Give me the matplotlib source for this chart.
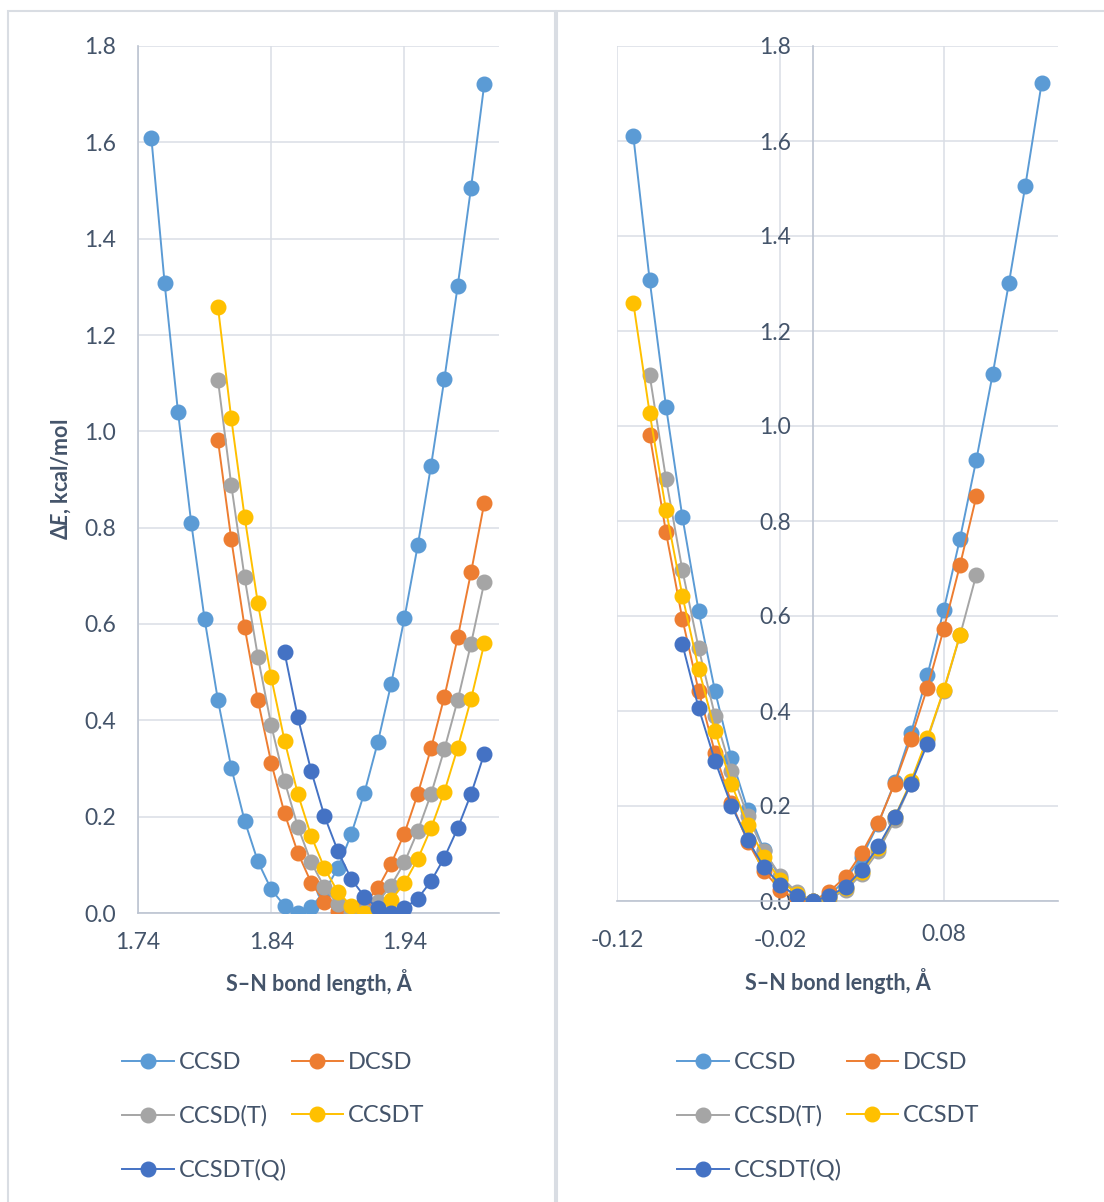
import matplotlib

matplotlib.use("Agg")
import matplotlib.pyplot as plt
import numpy as np
from matplotlib.patches import Rectangle
from matplotlib.transforms import ScaledTranslation

# S-N bond length grid (Angstrom) and relative energies (kcal/mol) per method.
R_GRID = [1.75, 1.76, 1.77, 1.78, 1.79, 1.80, 1.81, 1.82, 1.83, 1.84, 1.85, 1.86, 1.87,
          1.88, 1.89, 1.90, 1.91, 1.92, 1.93, 1.94, 1.95, 1.96, 1.97, 1.98, 1.99, 2.00]

E_CCSD = [1.610, 1.307, 1.041, 0.809, 0.610, 0.442, 0.302, 0.192, 0.107, 0.049, 0.015, 0.000, 0.012,
          0.045, 0.093, 0.163, 0.250, 0.354, 0.475, 0.612, 0.763, 0.929, 1.109, 1.302, 1.506, 1.722]
E_DCSD = [0.982, 0.776, 0.594, 0.442, 0.312, 0.207, 0.125, 0.063, 0.023, 0.004, 0.000,
          0.020, 0.051, 0.102, 0.165, 0.247, 0.342, 0.449, 0.572, 0.707, 0.852]
E_CCSD_T = [1.107, 0.889, 0.697, 0.532, 0.390, 0.274, 0.179, 0.105, 0.053, 0.018, 0.000,
            0.005, 0.023, 0.057, 0.105, 0.170, 0.247, 0.340, 0.442, 0.559, 0.687]
E_CCSDT = [1.259, 1.027, 0.823, 0.643, 0.489, 0.358, 0.247, 0.160, 0.093, 0.044, 0.015,
           0.000, 0.008, 0.027, 0.062, 0.112, 0.176, 0.252, 0.343, 0.444, 0.560]
E_CCSDT_Q = [0.541, 0.406, 0.295, 0.201, 0.129, 0.071, 0.034, 0.010, 0.000,
             0.010, 0.030, 0.066, 0.115, 0.176, 0.247, 0.331]

# First bond length of each scan and the bond length at the energy minimum.
METHODS = ["CCSD", "DCSD", "CCSD(T)", "CCSDT", "CCSDT(Q)"]
ENERGIES = [E_CCSD, E_DCSD, E_CCSD_T, E_CCSDT, E_CCSDT_Q]
R_START = [1.75, 1.80, 1.80, 1.80, 1.85]
R_MIN = [1.86, 1.90, 1.90, 1.91, 1.93]
COLORS = ["#5B9BD5", "#ED7D31", "#A5A5A5", "#FFC000", "#4472C4"]

LEFT_XTICKS = [1.74, 1.84, 1.94]
RIGHT_XTICKS = [-0.12, -0.02, 0.08]
YTICKS = [0.0, 0.2, 0.4, 0.6, 0.8, 1.0, 1.2, 1.4, 1.6, 1.8]

TEXT_COLOR = "#44546A"
GRID_COLOR = "#DADEE5"
AXIS_COLOR = "#BCC4D1"
BORDER_COLOR = "#D9DDE3"

W, H = 1104, 1202

plt.rcParams["font.family"] = ["Lato", "DejaVu Sans"]
plt.rcParams["mathtext.fontset"] = "custom"
plt.rcParams["mathtext.it"] = "Lato:italic:bold"


def series_points(i):
    start = R_GRID.index(R_START[i])
    r = np.array(R_GRID[start:start + len(ENERGIES[i])])
    return r, np.array(ENERGIES[i])


def style_axes(ax, xticks, xlim, xpad, labelpad):
    ax.set_xlim(*xlim)
    ax.set_ylim(0, 1.8)
    ax.set_xticks(xticks)
    ax.set_xticklabels([f"{t:.2f}" for t in xticks])
    ax.set_yticks(YTICKS)
    ax.set_yticklabels([f"{t:.1f}" for t in YTICKS])
    for side in ["top", "right"]:
        ax.spines[side].set_visible(False)
    for side in ["left", "bottom"]:
        ax.spines[side].set_color(AXIS_COLOR)
        ax.spines[side].set_linewidth(1.2)
    ax.grid(True, color=GRID_COLOR, linewidth=1.1)
    ax.set_axisbelow(True)
    ax.tick_params(length=0, colors=TEXT_COLOR, labelsize=16.5)
    ax.tick_params(axis="y", pad=16)
    ax.tick_params(axis="x", pad=xpad)
    ax.set_xlabel("S–N bond length, Å", fontsize=15.5, fontweight="bold",
                  color=TEXT_COLOR, labelpad=labelpad)


def add_legend(ax, handles, x_px):
    order = [0, 2, 4, 1, 3]  # Excel fills legend rows, matplotlib fills columns
    ax.legend([handles[k] for k in order], [METHODS[k] for k in order],
              ncol=2, frameon=False, fontsize=17, labelcolor=TEXT_COLOR,
              loc="upper left", bbox_to_anchor=(x_px / W, 1 - 1052 / H),
              bbox_transform=fig.transFigure, borderpad=0, borderaxespad=0,
              handlelength=2.2, handletextpad=0.2, columnspacing=0.2,
              labelspacing=1.37)


fig = plt.figure(figsize=(W / 100, H / 100), dpi=100)

# Light frames around the two chart objects.
fig.add_artist(Rectangle((8 / W, -0.01), (555 - 8) / W, 1.01 - 11 / H,
                         transform=fig.transFigure, fill=False,
                         edgecolor=BORDER_COLOR, linewidth=1.5))
fig.add_artist(Rectangle((557 / W, -0.01), 0.6, 1.01 - 11 / H,
                         transform=fig.transFigure, fill=False,
                         edgecolor=BORDER_COLOR, linewidth=1.5))

ax_abs = fig.add_axes([138 / W, 1 - 913 / H, (499 - 138) / W, (913 - 46) / H])
ax_rel = fig.add_axes([617 / W, 1 - 901 / H, (1058 - 617) / W, (901 - 46) / H])

handles = []
for i, name in enumerate(METHODS):
    r, e = series_points(i)
    style = dict(color=COLORS[i], linewidth=1.4, marker="o", markersize=10.5,
                 markeredgecolor=COLORS[i], zorder=3 + i)
    (h,) = ax_abs.plot(r, e, **style)
    ax_rel.plot(np.round(r - R_MIN[i], 2), e, **style)
    handles.append(h)

style_axes(ax_abs, LEFT_XTICKS, (1.74, 2.011), xpad=14, labelpad=11)
ax_abs.set_ylabel(r"Δ$\mathit{E}$, kcal/mol", fontsize=15.5, fontweight="bold",
                  color=TEXT_COLOR, labelpad=8)

style_axes(ax_rel, RIGHT_XTICKS, (-0.12, 0.15), xpad=21, labelpad=12)
ax_rel.spines["left"].set_position(("data", 0))
# Excel draws the positive label a little higher than the negative ones.
ax_rel.get_xticklabels()[2].set_transform(
    ax_rel.get_xticklabels()[2].get_transform()
    + ScaledTranslation(0, 6 / 100, fig.dpi_scale_trans))

add_legend(ax_abs, handles, 122)
add_legend(ax_rel, handles, 677)

fig.savefig("out.png", dpi=100)
